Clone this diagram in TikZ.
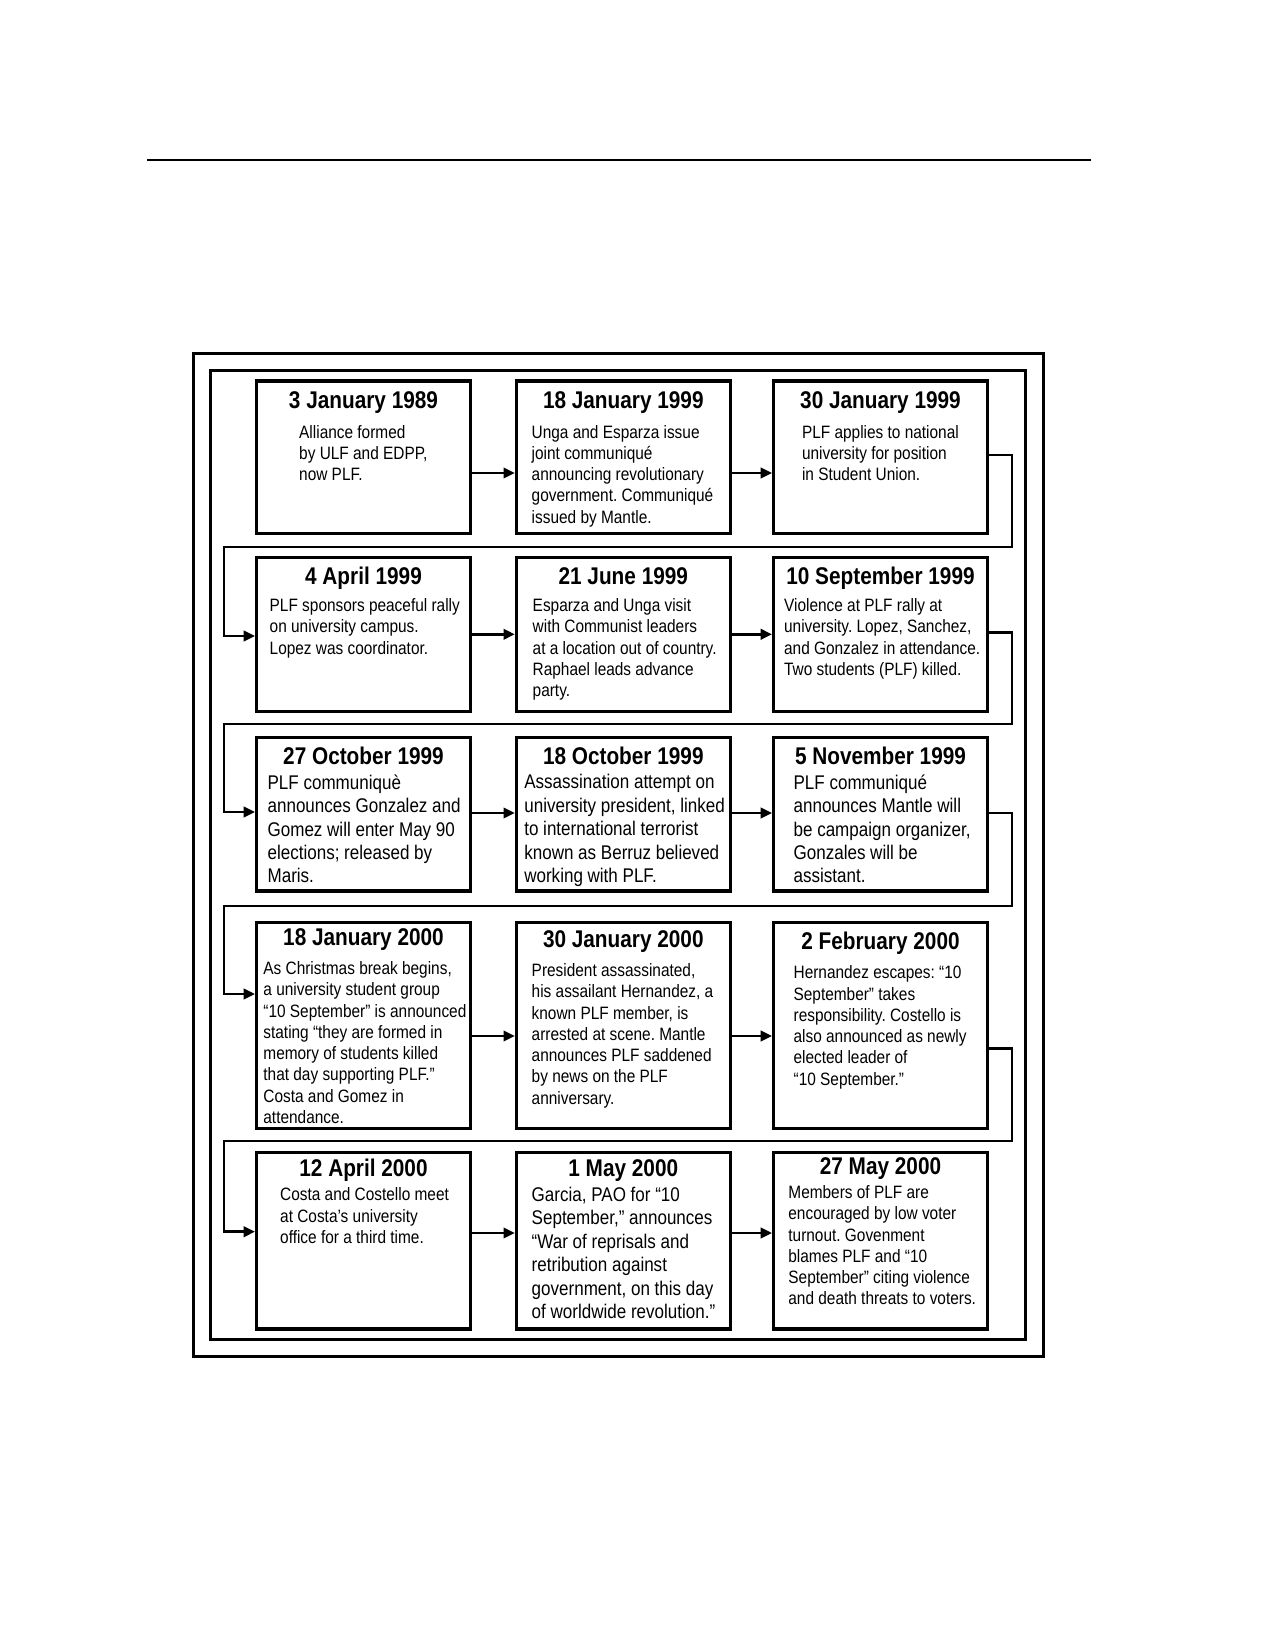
\documentclass[tikz,border=0pt]{standalone}
\usepackage{fontspec}
\setmainfont[FakeStretch=0.86]{Liberation Sans}
\usepackage{tikz}
\usetikzlibrary{arrows.meta}
\frenchspacing

\begin{document}
\begin{tikzpicture}[x=0.48pt,y=-0.48pt,
  >={Triangle[length=5.4pt,width=5pt]},
  event/.style={draw,line width=1.5pt,minimum width=102.7pt,inner sep=0pt},
  date/.style={anchor=base,inner sep=0pt,font=\bfseries\fontsize{11.6}{13}\selectfont},
  note/.style={anchor=north west,inner sep=0pt,align=left,font=\fontsize{8.6}{10.2}\selectfont},
  bignote/.style={note,font=\fontsize{9.5}{11.25}\selectfont},
  link/.style={->,line width=1.2pt}]
      \useasboundingbox (0,0) rectangle (1275,1650);

      \draw[line width=1.2pt] (147.3,159.9) -- (1091,159.9);
      \draw[line width=1.1pt] (193.6,353.5) rectangle (1043.6,1356.5);
      \draw[line width=1.4pt] (210.4,370.8) rectangle (1025.9,1339.2);

      \node (b11) at (363.5,457.2) [event,minimum height=73.2pt] {};
      \node (b12) at (623.3,457.2) [event,minimum height=73.2pt] {};
      \node (b13) at (880.5,457.2) [event,minimum height=73.2pt] {};
      \node (d11) at (363.5,408.5) [date] {3 January 1989};
      \node (d12) at (623.3,408.5) [date] {18 January 1999};
      \node (d13) at (880.5,408.5) [date] {30 January 1999};
      \node (t11) at (298.8,424.7) [note] {Alliance formed\\by ULF and EDPP,\\now PLF.};
      \node (t12) at (531.3,424.7) [note] {Unga and Esparza issue\\joint communiqué\\announcing revolutionary\\government. Communiqué\\issued by Mantle.};
      \node (t13) at (801.6,424.7) [note] {PLF applies to national\\university for position\\in Student Union.};

      \node (b21) at (363.5,634.3) [event,minimum height=73.7pt] {};
      \node (b22) at (623.3,634.3) [event,minimum height=73.7pt] {};
      \node (b23) at (880.5,634.3) [event,minimum height=73.7pt] {};
      \node (d21) at (363.5,584.1) [date] {4 April 1999};
      \node (d22) at (623.3,584.1) [date] {21 June 1999};
      \node (d23) at (880.5,584.1) [date] {10 September 1999};
      \node (t21) at (269.3,598.3) [note] {PLF sponsors peaceful rally\\on university campus.\\Lopez was coordinator.};
      \node (t22) at (532.3,598.3) [note] {Esparza and Unga visit\\with Communist leaders\\at a location out of country.\\Raphael leads advance\\party.};
      \node (t23) at (783.7,598.3) [note] {Violence at PLF rally at\\university. Lopez, Sanchez,\\and Gonzalez in attendance.\\Two students (PLF) killed.};

      \node (b31) at (363.5,814.2) [event,minimum height=73.7pt] {};
      \node (b32) at (623.3,814.2) [event,minimum height=73.7pt] {};
      \node (b33) at (880.5,814.2) [event,minimum height=73.7pt] {};
      \node (d31) at (363.5,764) [date] {27 October 1999};
      \node (d32) at (623.3,764) [date] {18 October 1999};
      \node (d33) at (880.5,764) [date] {5 November 1999};
      \node (t31) at (267.2,774.2) [bignote] {PLF communiquè\\announces Gonzalez and\\Gomez will enter May 90\\elections; released by\\Maris.};
      \node (t32) at (523.9,774.2) [bignote] {Assassination attempt on\\university president, linked\\to international terrorist\\known as Berruz believed\\working with PLF.};
      \node (t33) at (793.2,774.2) [bignote] {PLF communiqué\\announces Mantle will\\be campaign organizer,\\Gonzales will be\\assistant.};

      \node (b41) at (363.5,1025.7) [event,minimum height=99pt] {};
      \node (b42) at (623.3,1025.7) [event,minimum height=99pt] {};
      \node (b43) at (880.5,1025.7) [event,minimum height=99pt] {};
      \node (d41) at (363.5,945) [date] {18 January 2000};
      \node (d42) at (623.3,947.1) [date] {30 January 2000};
      \node (d43) at (880.5,949.2) [date] {2 February 2000};
      \node (t41) at (263,961.2) [note] {As Christmas break begins,\\a university student group\\“10 September” is announced\\stating “they are formed in\\memory of students killed\\that day supporting PLF.”\\Costa and Gomez in\\attendance.};
      \node (t42) at (531.3,963.3) [note] {President assassinated,\\his assailant Hernandez, a\\known PLF member, is\\arrested at scene. Mantle\\announces PLF saddened\\by news on the PLF\\anniversary.};
      \node (t43) at (793.2,965.4) [note] {Hernandez escapes: “10\\September” takes\\responsibility. Costello is\\also announced as newly\\elected leader of\\“10 September.”};

      \node (b51) at (363.5,1240.8) [event,minimum height=84.6pt] {};
      \node (b52) at (623.3,1240.8) [event,minimum height=84.6pt] {};
      \node (b53) at (880.5,1240.8) [event,minimum height=84.6pt] {};
      \node (d51) at (363.5,1176.4) [date] {12 April 2000};
      \node (d52) at (623.3,1176.4) [date] {1 May 2000};
      \node (d53) at (880.5,1174.3) [date] {27 May 2000};
      \node (t51) at (279.8,1187.4) [note] {Costa and Costello meet\\at Costa’s university\\office for a third time.};
      \node (t52) at (531.3,1186.6) [bignote] {Garcia, PAO for “10\\September,” announces\\“War of reprisals and\\retribution against\\government, on this day\\of worldwide revolution.”};
      \node (t53) at (788,1185.3) [note] {Members of PLF are\\encouraged by low voter\\turnout. Govenment\\blames PLF and “10\\September” citing violence\\and death threats to voters.};

      \coordinate (a1) at (493,473);
      \coordinate (a2) at (493,634.3);
      \coordinate (a3) at (493,813);
      \coordinate (a4) at (493,1036);
      \coordinate (a5) at (493,1233);
      \coordinate (o1) at (1012,455);
      \coordinate (o2) at (1012,632.5);
      \coordinate (o3) at (1012,813);
      \coordinate (o4) at (1012,1048.7);
      \coordinate (l1) at (224.2,547);
      \coordinate (l2) at (224.2,723.8);
      \coordinate (l3) at (224.2,905.8);
      \coordinate (l4) at (224.2,1141);
      \coordinate (i2) at (224.2,636);
      \coordinate (i3) at (224.2,812);
      \coordinate (i4) at (224.2,994);
      \coordinate (i5) at (224.2,1231.7);

      \path[link] (b11.east |- a1) edge (b12.west |- a1) (b12.east |- a1) edge (b13.west |- a1);
      \path[link] (b21.east |- a2) edge (b22.west |- a2) (b22.east |- a2) edge (b23.west |- a2);
      \path[link] (b31.east |- a3) edge (b32.west |- a3) (b32.east |- a3) edge (b33.west |- a3);
      \path[link] (b41.east |- a4) edge (b42.west |- a4) (b42.east |- a4) edge (b43.west |- a4);
      \path[link] (b51.east |- a5) edge (b52.west |- a5) (b52.east |- a5) edge (b53.west |- a5);

      \draw[link] (b13.east |- o1) -- (o1) |- (l1) |- (b21.west |- i2);
      \draw[link] (b23.east |- o2) -- (o2) |- (l2) |- (b31.west |- i3);
      \draw[link] (b33.east |- o3) -- (o3) |- (l3) |- (b41.west |- i4);
      \draw[link] (b43.east |- o4) -- (o4) |- (l4) |- (b51.west |- i5);

\end{tikzpicture}
\end{document}
